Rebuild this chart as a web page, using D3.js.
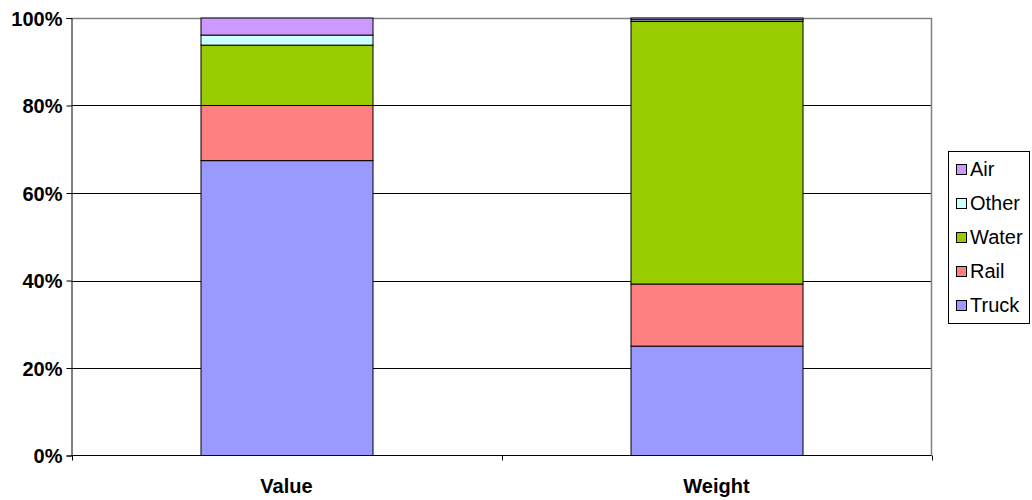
<!DOCTYPE html>
<html><head><meta charset="utf-8">
<script src="https://cdn.jsdelivr.net/npm/d3@7"></script>
<style>body{margin:0;background:#fff}svg{display:block;font-family:"Liberation Sans",Arial,sans-serif}</style>
</head><body><svg id="c" width="1032" height="500"></svg>
<script>
const categories = ["Value", "Weight"];
const modes = ["Truck", "Rail", "Water", "Other", "Air"];
const truck = [67.4, 25.0];
const rail = [12.6, 14.2];
const water = [13.8, 60.0];
const other = [2.3, 0.4];
const air = [3.9, 0.4];
const yTicks = [0, 20, 40, 60, 80, 100];
const colors = ["#9999FF", "#FF8080", "#99CC00", "#CCFFFF", "#CC99FF"];

const seriesVals = [truck, rail, water, other, air];
const rows = categories.map((c, i) => {
  const r = {cat: c};
  modes.forEach((m, k) => r[m] = seriesVals[k][i]);
  return r;
});
const stack = d3.stack().keys(modes)(rows);

const svg = d3.select("#c");
const L = 71.5, R = 931.5, T = 18, B = 455.5;
const x = d3.scaleBand().domain(categories).range([L, R]).paddingInner(0.6).paddingOuter(0.3);
const y = d3.scaleLinear().domain([0, 100]).range([B, T]);

// gridlines
svg.append("g").selectAll("line").data(yTicks.filter(t => t > 0 && t < 100)).join("line")
  .attr("x1", L).attr("x2", R).attr("y1", d => Math.round(y(d)) + 0.5).attr("y2", d => Math.round(y(d)) + 0.5)
  .attr("stroke", "#000").attr("stroke-width", 1);
// plot border top/right gray
svg.append("path").attr("d", `M${L},${T + 0.5}H${R}V${B}`).attr("fill", "none").attr("stroke", "#808080").attr("stroke-width", 1.5);

// bars
const g = svg.append("g");
stack.forEach((s, k) => {
  g.selectAll(null).data(s).join("rect")
    .attr("x", d => x(d.data.cat) + 0.5)
    .attr("width", x.bandwidth())
    .attr("y", d => y(d[1]))
    .attr("height", d => y(d[0]) - y(d[1]))
    .attr("fill", colors[k]).attr("stroke", "#000").attr("stroke-width", 1);
});

// y axis
const yAxis = d3.axisLeft(y).tickValues(yTicks).tickFormat(d => d + "%").tickSize(5).tickPadding(4);
const ya = svg.append("g").attr("transform", `translate(${L},0)`).call(yAxis);
ya.select(".domain").attr("stroke", "#000");
ya.selectAll(".tick line").attr("stroke", "#000");
ya.selectAll("text").attr("font-size", 20).attr("font-weight", "bold").attr("fill", "#000")
  .attr("font-family", "Liberation Sans, Arial, sans-serif").attr("dy", "0.35em");

// x axis
const xa = svg.append("g").attr("transform", `translate(0,${B})`);
xa.append("line").attr("x1", L).attr("x2", R).attr("stroke", "#000");
xa.selectAll(".xt").data([L, (L + R) / 2, R]).join("line")
  .attr("x1", d => Math.round(d) + 0.5).attr("x2", d => Math.round(d) + 0.5).attr("y1", 0).attr("y2", 5).attr("stroke", "#000");
xa.selectAll("text").data(categories).join("text")
  .attr("x", d => x(d) + x.bandwidth() / 2).attr("y", 37)
  .attr("text-anchor", "middle").attr("font-size", 20).attr("font-weight", "bold").text(d => d);

// legend
const lg = svg.append("g");
lg.append("rect").attr("x", 948.5).attr("y", 151.5).attr("width", 81).attr("height", 172)
  .attr("fill", "#fff").attr("stroke", "#000").attr("stroke-width", 1);
const legendOrder = modes.map((m, k) => ({m, k})).reverse();
legendOrder.forEach((o, i) => {
  const cy = 169 + i * 34;
  lg.append("rect").attr("x", 956.5).attr("y", cy - 4.5).attr("width", 10).attr("height", 10)
    .attr("fill", colors[o.k]).attr("stroke", "#000").attr("stroke-width", 1);
  lg.append("text").attr("x", 970).attr("y", cy + 7).attr("font-size", 20).text(o.m);
});
</script></body></html>
